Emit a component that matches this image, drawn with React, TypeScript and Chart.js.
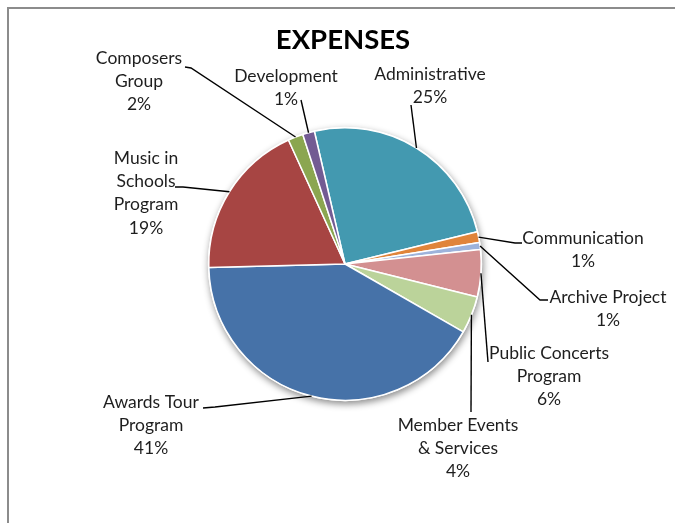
import React, { useEffect, useRef } from "react";
import { Chart, registerables } from "chart.js";

Chart.register(...registerables);

const categories = [
  "Administrative",
  "Communication",
  "Archive Project",
  "Public Concerts Program",
  "Member Events & Services",
  "Awards Tour Program",
  "Music in Schools Program",
  "Composers Group",
  "Development",
];
const values = [24.8, 1.3, 0.8, 5.6, 4.4, 41.3, 18.6, 1.8, 1.4];
const percentLabels = ["25%", "1%", "1%", "6%", "4%", "41%", "19%", "2%", "1%"];
const labelLines = [
  ["Administrative"],
  ["Communication"],
  ["Archive Project"],
  ["Public Concerts", "Program"],
  ["Member Events", "& Services"],
  ["Awards Tour", "Program"],
  ["Music in", "Schools", "Program"],
  ["Composers", "Group"],
  ["Development"],
];
const colors = [
  "#4399B0",
  "#E0843A",
  "#9DB3DB",
  "#D39091",
  "#BBD39A",
  "#4672A8",
  "#A74543",
  "#8BA650",
  "#735B93",
];

// label placement (text centre x, first line centre y, leader polyline end points)
const labelLayout = [
  { cx: 430, y: 74, pts: [[411, 105]] },
  { cx: 583, y: 238, pts: [[515, 243], [522, 243]] },
  { cx: 608, y: 297, pts: [[540, 300], [548, 300]] },
  { cx: 549, y: 353, pts: [[488, 362]] },
  { cx: 458, y: 425, pts: [[471, 412]] },
  { cx: 151, y: 402, pts: [[215, 407], [203, 408]] },
  { cx: 146, y: 158, pts: [[183, 187], [175, 187]] },
  { cx: 139, y: 58, pts: [[191, 68], [185, 67]] },
  { cx: 286, y: 76, pts: [[301, 100]] },
];

const LINE_H = 23.3;
const FONT = "Lato, 'Noto Sans', sans-serif";

const shadowPlugin = {
  id: "pieShadow",
  beforeDatasetsDraw(chart: any) {
    const meta = chart.getDatasetMeta(0);
    const arc = meta.data[0];
    if (!arc) return;
    const { x, y, outerRadius } = arc.getProps(["x", "y", "outerRadius"], true);
    const ctx = chart.ctx;
    ctx.save();
    ctx.shadowColor = "rgba(0,0,0,0.45)";
    ctx.shadowBlur = 7;
    ctx.shadowOffsetX = 1;
    ctx.shadowOffsetY = 3;
    ctx.fillStyle = "#ffffff";
    ctx.beginPath();
    ctx.arc(x, y, outerRadius + 1, 0, Math.PI * 2);
    ctx.fill();
    ctx.restore();
  },
};

const labelPlugin = {
  id: "outsideLabels",
  afterDatasetsDraw(chart: any) {
    const meta = chart.getDatasetMeta(0);
    const ctx = chart.ctx;
    ctx.save();
    meta.data.forEach((arc: any, i: number) => {
      const { x, y, startAngle, endAngle, outerRadius } = arc.getProps(
        ["x", "y", "startAngle", "endAngle", "outerRadius"],
        true
      );
      const mid = (startAngle + endAngle) / 2;
      const px = x + Math.cos(mid) * outerRadius;
      const py = y + Math.sin(mid) * outerRadius;
      const lay = labelLayout[i];
      ctx.strokeStyle = "#000";
      ctx.lineWidth = 1.4;
      ctx.beginPath();
      ctx.moveTo(px, py);
      lay.pts.forEach((p) => ctx.lineTo(p[0], p[1]));
      ctx.stroke();

      const lines = [...labelLines[i], percentLabels[i]];
      ctx.fillStyle = "#1e1e1e";
      ctx.font = `17.5px ${FONT}`;
      ctx.textAlign = "center";
      ctx.textBaseline = "middle";
      lines.forEach((t, k) => ctx.fillText(t, lay.cx, lay.y + k * LINE_H));
    });
    // title
    ctx.fillStyle = "#000";
    ctx.font = `bold 27.5px ${FONT}`;
    ctx.textAlign = "center";
    ctx.textBaseline = "middle";
    ctx.fillText("EXPENSES", 343, 40);
    ctx.restore();
  },
};

export default function App() {
  const ref = useRef<HTMLCanvasElement | null>(null);
  useEffect(() => {
    if (!ref.current) return;
    const chart = new Chart(ref.current, {
      type: "pie",
      data: {
        labels: categories,
        datasets: [
          {
            data: values,
            backgroundColor: colors,
            borderColor: "#ffffff",
            borderWidth: 1.5,
          },
        ],
      },
      options: {
        responsive: false,
        animation: false,
        rotation: -13,
        layout: { padding: { left: 208, right: 193, top: 127, bottom: 122 } },
        plugins: {
          legend: { display: false },
          tooltip: { enabled: false },
          title: { display: false },
        },
      },
      plugins: [shadowPlugin, labelPlugin],
    });
    return () => chart.destroy();
  }, []);
  return (
    <div style={{ position: "fixed", left: 0, top: 0, width: 675, height: 523, background: "#fff", overflow: "hidden" }}>
      <div
        style={{
          position: "absolute",
          left: 7,
          top: 7,
          width: 720,
          height: 600,
          border: "2px solid #8c8c8c",
          boxSizing: "border-box",
        }}
      />
      <canvas ref={ref} width={675} height={523} style={{ position: "absolute", left: 0, top: 0 }} />
    </div>
  );
}
